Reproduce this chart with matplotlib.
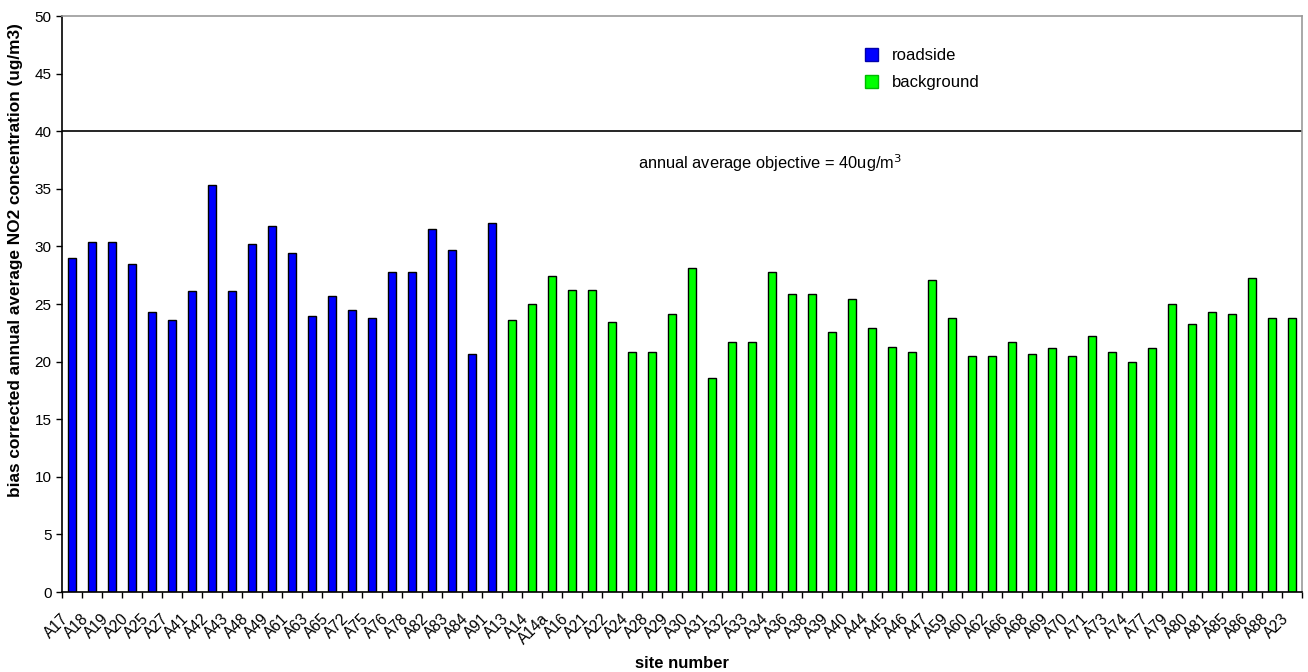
import matplotlib.pyplot as plt
import matplotlib.transforms as mtransforms
import numpy as np
from matplotlib.patches import Patch

roadside_sites = ["A17", "A18", "A19", "A20", "A25", "A27", "A41", "A42", "A43", "A48", "A49",
                  "A61", "A63", "A65", "A72", "A75", "A76", "A78", "A82", "A83", "A84", "A91"]
roadside_values = [29.0, 30.4, 30.4, 28.5, 24.3, 23.6, 26.1, 35.3, 26.1, 30.2, 31.8,
                   29.4, 24.0, 25.7, 24.5, 23.8, 27.8, 27.8, 31.5, 29.7, 20.7, 32.0]
background_sites = ["A13", "A14", "A14a", "A16", "A21", "A22", "A24", "A28", "A29", "A30",
                    "A31", "A32", "A33", "A34", "A36", "A38", "A39", "A40", "A44", "A45",
                    "A46", "A47", "A59", "A60", "A62", "A66", "A68", "A69", "A70", "A71",
                    "A73", "A74", "A77", "A79", "A80", "A81", "A85", "A86", "A88", "A23"]
background_values = [23.6, 25.0, 27.4, 26.2, 26.2, 23.4, 20.8, 20.8, 24.1, 28.1,
                     18.6, 21.7, 21.7, 27.8, 25.9, 25.9, 22.6, 25.4, 22.9, 21.3,
                     20.8, 27.1, 23.8, 20.5, 20.5, 21.7, 20.7, 21.2, 20.5, 22.2,
                     20.8, 20.0, 21.2, 25.0, 23.3, 24.3, 24.1, 27.3, 23.8, 23.8]
objective = 40

plt.rcParams["font.family"] = ["Liberation Sans", "DejaVu Sans"]

fig = plt.figure(figsize=(13.08, 6.72), dpi=100)
ax = fig.add_axes([62 / 1308, 80 / 672, 1240 / 1308, 576 / 672])

n_road = len(roadside_values)
x_road = np.arange(n_road)
x_back = np.arange(n_road, n_road + len(background_values))
ax.bar(x_road, roadside_values, width=0.4, color="#0000ff", edgecolor="black", linewidth=1)
ax.bar(x_back, background_values, width=0.4, color="#00ff00", edgecolor="black", linewidth=1)

ax.axhline(objective, color="black", linewidth=1.2)
ax.text(34.9, 37.2, "annual average objective = 40ug/m$^3$", fontsize=11.8, ha="center", va="center")

n = n_road + len(background_values)
ax.set_xlim(-0.5, n - 0.5)
ax.set_ylim(0, 50)
ax.set_yticks(np.arange(0, 51, 5))
ax.set_xticks(np.arange(n))
ax.set_xticklabels(roadside_sites + background_sites, rotation=45, ha="right",
                   rotation_mode="anchor", fontsize=11.2)
ax.set_xticks(np.arange(-0.5, n, 1), minor=True)
ax.tick_params(axis="x", which="major", length=0, pad=14)
ax.tick_params(axis="x", which="minor", length=4, width=1, direction="out")
ax.tick_params(axis="y", length=4, width=1, direction="out", labelsize=11)
# labels sit a little left of the bar, as in the source chart
shift = mtransforms.ScaledTranslation(-11 / 100, 0, fig.dpi_scale_trans)
for lbl in ax.get_xticklabels():
    lbl.set_transform(lbl.get_transform() + shift)

for side in ["left", "bottom"]:
    ax.spines[side].set_color("black")
    ax.spines[side].set_linewidth(1.2)
for side in ["top", "right"]:
    ax.spines[side].set_color("#999999")
    ax.spines[side].set_linewidth(1.2)

ax.set_xlabel("site number", fontsize=12, fontweight="bold", va="center")
ax.xaxis.set_label_coords(0.5, -71 / 576)
fig.text(16 / 1308, 175 / 672, "bias corrected annual average NO2 concentration (ug/m3)",
         rotation=90, ha="center", va="bottom", fontsize=12.4, fontweight="bold")

handles = [Patch(facecolor="#0000ff", edgecolor="#0000aa", label="roadside"),
           Patch(facecolor="#00ff00", edgecolor="#00bb00", label="background")]
ax.legend(handles=handles, loc="upper left", bbox_to_anchor=(0.6355, 0.97), frameon=False,
          fontsize=12, handlelength=0.8, handleheight=0.8, handletextpad=0.8, labelspacing=0.68)

fig.savefig("out.png", dpi=100)
